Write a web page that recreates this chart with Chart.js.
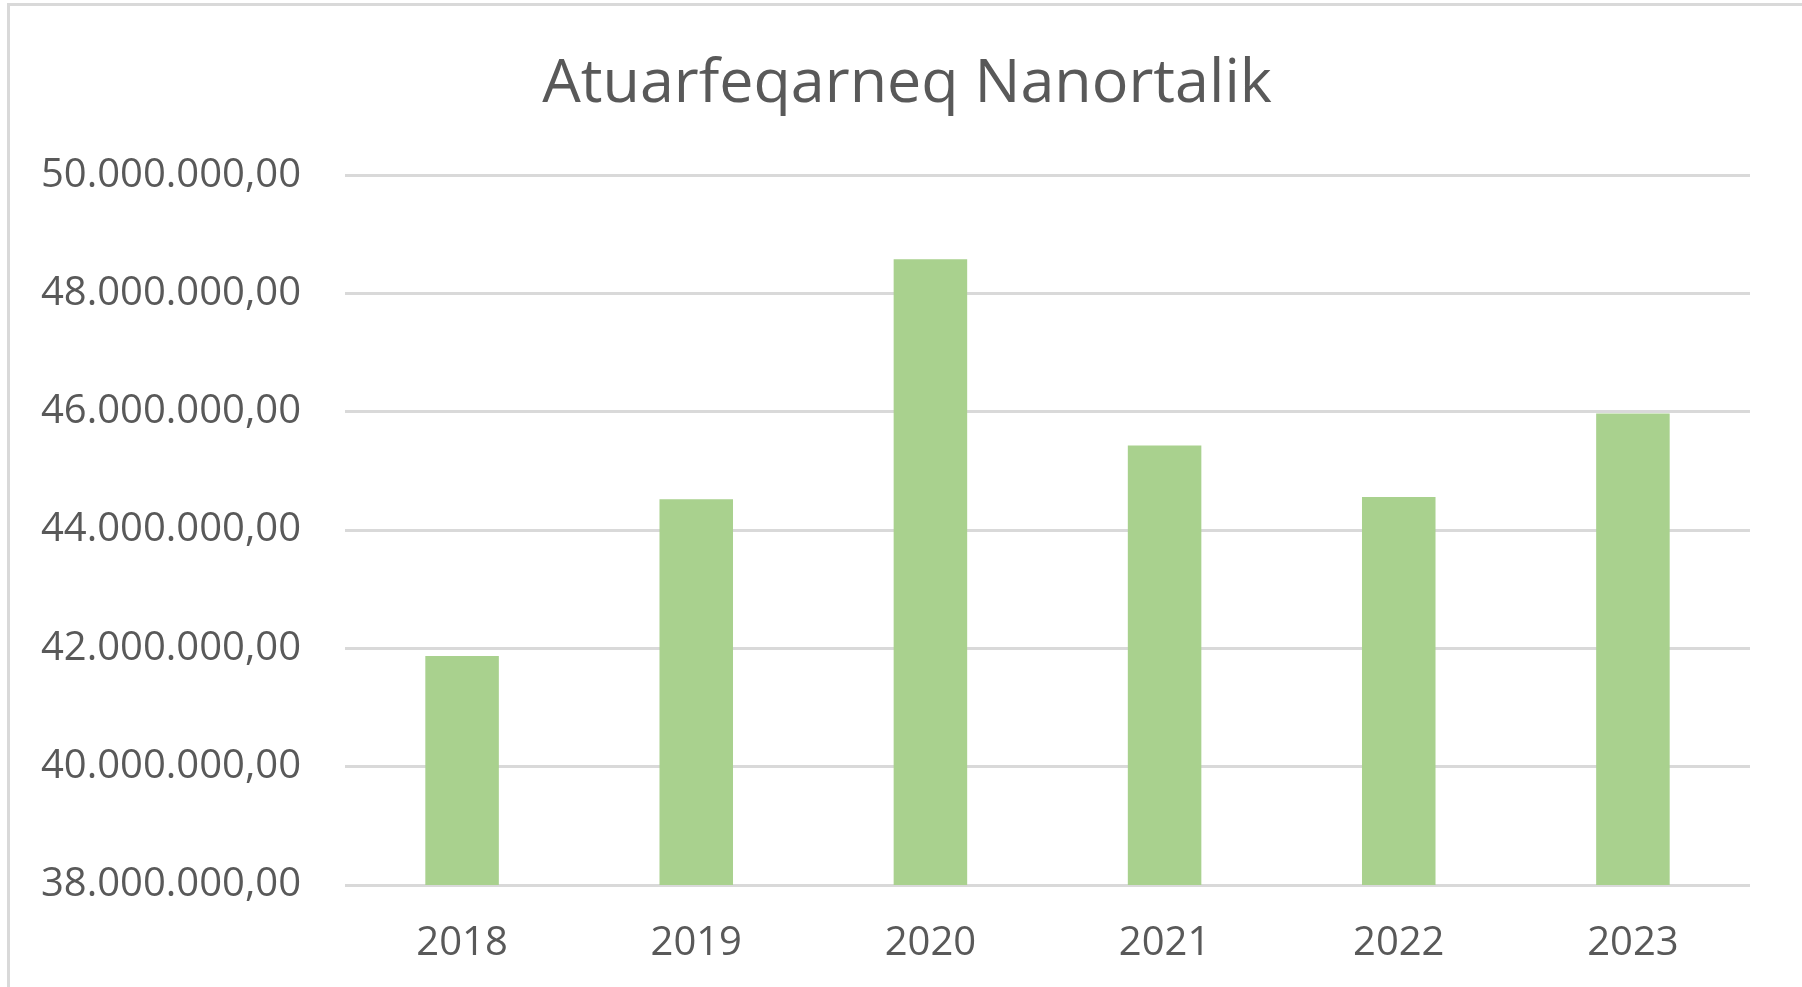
<!DOCTYPE html>
<html>
<head>
<meta charset="utf-8">
<script src="https://cdn.jsdelivr.net/npm/chart.js@4/dist/chart.umd.min.js"></script>
<style>
  html, body { margin: 0; padding: 0; background: #ffffff; }
  #wrap { position: relative; width: 1802px; height: 987px; overflow: hidden; }
  #frame { position: absolute; left: 7px; top: 3px; width: 1820px; height: 1010px; border: 3px solid #d9d9d9; box-sizing: border-box; }
  canvas { position: absolute; left: 0; top: 0; }
</style>
</head>
<body>
<div id="wrap">
  <div id="frame"></div>
  <canvas id="c" width="1802" height="1003"></canvas>
</div>
<script>
const titleText = "Atuarfeqarneq Nanortalik";
const years = ["2018", "2019", "2020", "2021", "2022", "2023"];
const amounts = [41870000, 44520000, 48580000, 45430000, 44560000, 45970000];
const yMin = 38000000;
const yMax = 50000000;
const yStep = 2000000;

function fmt(v) {
  const parts = Math.round(v).toString().replace(/\B(?=(\d{3})+(?!\d))/g, ".");
  return parts + ",00";
}

const textColor = "#595959";
const gridColor = "#d9d9d9";
const fontFamily = "'Open Sans', 'DejaVu Sans', sans-serif";

new Chart(document.getElementById("c"), {
  type: "bar",
  data: {
    labels: years,
    datasets: [{
      data: amounts,
      backgroundColor: "#a9d18e",
      borderWidth: 0,
      barPercentage: 0.314,
      categoryPercentage: 1.0,
      yAxisID: "y"
    }]
  },
  options: {
    responsive: false,
    animation: false,
    devicePixelRatio: 1,
    layout: { padding: { left: 12, right: 0, top: 0, bottom: 0 } },
    plugins: {
      legend: { display: false },
      tooltip: { enabled: false },
      title: {
        display: true,
        text: titleText,
        color: textColor,
        font: { family: fontFamily, size: 61, weight: "normal" },
        padding: { top: 48, bottom: 54 }
      }
    },
    scales: {
      x: {
        grid: { display: false, drawTicks: false, tickLength: 0 },
        border: { display: false },
        ticks: {
          color: textColor,
          font: { family: fontFamily, size: 40 },
          padding: 35,
          maxRotation: 0
        }
      },
      y: {
        min: yMin,
        max: yMax,
        afterFit: (scale) => { scale.width = 333; },
        grid: { color: gridColor, lineWidth: 3, drawTicks: false, tickLength: 0 },
        border: { display: false },
        ticks: {
          stepSize: yStep,
          color: textColor,
          font: { family: fontFamily, size: 40 },
          padding: 44,
          callback: (v) => fmt(v)
        }
      },
      yRight: {
        position: "right",
        min: yMin,
        max: yMax,
        afterFit: (scale) => { scale.width = 52; },
        grid: { display: false, drawTicks: false },
        border: { display: false },
        ticks: { display: false }
      }
    }
  }
});
</script>
</body>
</html>
